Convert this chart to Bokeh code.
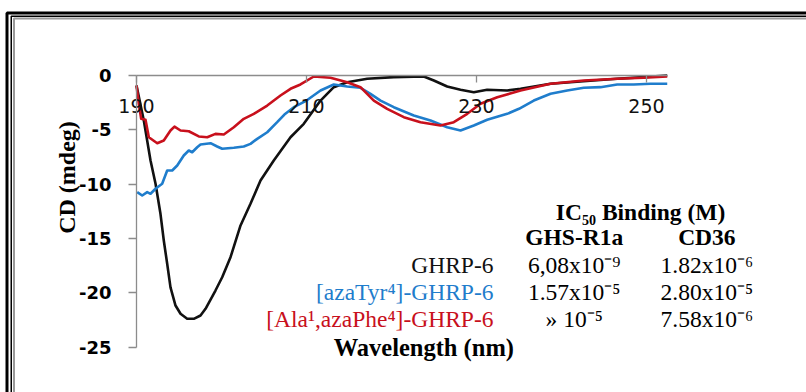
import math
from bokeh.plotting import figure
from bokeh.models import (Range1d, FixedTicker, LabelSet, Label, LinearAxis,
                          ColumnDataSource, BoxAnnotation)
from bokeh.embed import file_html
from bokeh.resources import INLINE

# ---------------- data ----------------
ghrp_wl = [190.0, 190.86, 191.65, 192.24, 192.82, 193.21, 193.61, 194.0, 194.59,
           195.18, 195.96, 196.74, 197.53, 198.12, 199.29, 200.08, 201.06, 202.24, 203.41,
           204.59, 206.15, 208.12, 209.68, 211.65, 213.21, 214.79, 217.14, 220.27, 223.8,
           224.98, 226.55, 228.12, 229.68, 231.26, 233.61, 235.18, 238.71, 242.59, 246.55,
           249.65, 252.44]
ghrp_cd = [-0.95, -4.16, -7.84, -9.98, -12.74, -15.19, -17.33, -19.5, -21.17,
           -21.93, -22.39, -22.39, -22.09, -21.47, -19.79, -18.57, -16.73, -13.81, -11.82,
           -9.68, -7.84, -5.70, -4.47, -2.33, -1.10, -0.64, -0.33, -0.18, -0.12,
           -0.49, -1.04, -1.34, -1.56, -1.34, -1.41, -1.25, -0.79, -0.55, -0.33,
           -0.18, -0.03]

azatyr_wl = [190.08, 190.67, 191.26, 191.65, 192.24, 193.02, 193.61, 194.2, 194.79, 195.56,
             196.15, 196.55, 197.14, 197.53, 198.71, 199.49, 200.08, 201.45, 202.62, 203.41,
             204.2, 205.38, 206.55, 207.4, 208.51, 210.0, 211.65, 213.21, 214.79, 216.35,
             217.53, 218.71, 220.27, 222.62, 224.59, 226.55, 228.12, 229.68, 231.26, 233.61,
             235.0, 236.74, 238.71, 240.67, 242.62, 244.59, 246.55, 248.51, 250.47, 252.44]
azatyr_cd = [-10.75, -11.06, -10.75, -10.9, -10.44, -9.98, -8.76, -8.76, -8.30, -7.38,
             -6.92, -7.08, -6.62, -6.37, -6.25, -6.55, -6.76, -6.67, -6.55, -6.31,
             -5.85, -5.24, -4.32, -3.62, -2.94, -2.33, -1.41, -0.85, -1.04, -1.16,
             -1.71, -2.33, -2.94, -3.70, -4.16, -4.78, -5.08, -4.62, -4.10, -3.55,
             -3.09, -2.33, -1.71, -1.41, -1.16, -1.10, -0.85, -0.85, -0.79, -0.79]

ala_wl = [190.0, 190.27, 190.55, 191.06, 191.45, 192.44, 193.21, 194.0, 194.47, 195.18,
          196.15, 197.33, 198.32, 199.29, 200.27, 201.45, 202.62, 203.8, 205.38, 206.94,
          208.12, 209.29, 210.86, 212.82, 214.79, 216.35, 217.92, 219.49, 221.45, 223.41,
          225.76, 227.33, 228.91, 230.47, 232.44, 235.18, 238.71, 242.62, 246.55, 249.68,
          252.44]
ala_cd = [-0.95, -2.63, -4.01, -4.10, -5.70, -6.25, -6.00, -5.08, -4.72, -5.08,
          -5.15, -5.63, -5.70, -5.39, -5.45, -4.78, -4.01, -3.55, -2.79, -1.87,
          -1.25, -0.85, -0.12, -0.24, -0.64, -1.10, -2.33, -3.09, -3.86, -4.32,
          -4.62, -4.32, -3.55, -2.63, -2.02, -1.41, -0.79, -0.49, -0.33, -0.24,
          -0.12]

x_ticks = [190, 210, 230, 250]
x_tick_labels = ["190", "210", "230", "250"]
y_ticks = [0, -5, -10, -15, -20, -25]
y_tick_labels = ["0", "-5", "-10", "-15", "-20", "-25"]

peptides = ["GHRP-6", "[azaTyr\u2074]-GHRP-6", "[Ala\u00b9,azaPhe\u2074]-GHRP-6"]
ghs_r1a = ["6,08x10\u207b\u2079", "1.57x10\u207b\u2075", "\u00bb 10\u207b\u2075"]
cd36 = ["1.82x10\u207b\u2076", "2.80x10\u207b\u2075", "7.58x10\u207b\u2076"]
table_title = "IC\u2085\u2080 Binding (M)"
column_heads = ["GHS-R1a", "CD36"]

BLACK = "#111111"
BLUE = "#1f7dcc"
RED = "#c8101c"
AXIS = "#8c8c8c"

# pixel scale of the chart: 8.5 px per nm (190 nm at x=136), 10.88 px per mdeg (0 at y=74.7)
W, H = 806, 392
PX_NM, X0_PX = 8.5, 136.0
PX_MDEG, Y0_PX = 10.88, 74.7

p = figure(width=W, height=H, output_backend="svg", toolbar_location=None,
           x_range=Range1d(190 - X0_PX / PX_NM, 190 + (W - X0_PX) / PX_NM),
           y_range=Range1d(-(H - Y0_PX) / PX_MDEG, Y0_PX / PX_MDEG),
           x_axis_location=None, y_axis_location=None,
           min_border=0, min_border_left=0, min_border_right=0,
           min_border_top=0, min_border_bottom=0)
p.grid.visible = False
p.outline_line_color = None
p.background_fill_color = "white"
p.border_fill_color = "white"

# x axis crossing at CD = 0, labels beneath the line
xa = LinearAxis(fixed_location=0, bounds=(190, 252.5),
                ticker=FixedTicker(ticks=x_ticks),
                major_label_overrides={t: s for t, s in zip(x_ticks, x_tick_labels)})
xa.major_tick_in = 0
xa.major_tick_out = 7
xa.minor_tick_in = 0
xa.minor_tick_out = 0
xa.axis_line_color = AXIS
xa.axis_line_width = 1.3
xa.major_tick_line_color = AXIS
xa.major_tick_line_width = 1.3
xa.major_label_standoff = 17
xa.major_label_text_font = "DejaVu Sans"
xa.major_label_text_font_size = "19px"
xa.major_label_text_color = "#111111"
p.add_layout(xa, "below")

ya = LinearAxis(fixed_location=190, bounds=(-25, 0),
                ticker=FixedTicker(ticks=y_ticks),
                major_label_overrides={t: s for t, s in zip(y_ticks, y_tick_labels)})
ya.major_tick_out = 8
ya.major_tick_in = 0
ya.minor_tick_in = 0
ya.minor_tick_out = 0
ya.axis_line_color = AXIS
ya.axis_line_width = 1.3
ya.major_tick_line_color = AXIS
ya.major_tick_line_width = 1.3
ya.major_label_standoff = 17
ya.major_label_text_font = "DejaVu Sans"
ya.major_label_text_font_style = "bold"
ya.major_label_text_font_size = "18px"
ya.major_label_text_color = "black"
p.add_layout(ya, "left")

# curves
p.line(ghrp_wl, ghrp_cd, line_color=BLACK, line_width=2.6, line_join="round")
p.line(azatyr_wl, azatyr_cd, line_color=BLUE, line_width=2.6, line_join="round")
p.line(ala_wl, ala_cd, line_color=RED, line_width=2.6, line_join="round")

# axis titles
p.add_layout(Label(x=190, y=-9.4, x_offset=-70, text="CD (mdeg)", angle=math.pi / 2,
                   text_align="center", text_baseline="middle",
                   text_font="Liberation Serif", text_font_style="bold",
                   text_font_size="24px", text_color="black"))
wsrc = ColumnDataSource(dict(x=[223.8], y=[-25], t=["Wavelength (nm)"]))
p.add_layout(LabelSet(x="x", y="y", text="t", source=wsrc, y_offset=-9,
                      text_align="center", text_baseline="alphabetic",
                      text_font="Liberation Serif", text_font_style="bold",
                      text_font_size="24.5px", text_color="black"))

# IC50 table
row_y = [-18.2, -20.65, -23.1]
tsrc = ColumnDataSource(dict(x=[249.3, 241.5, 257.1], y=[-13.35, -15.65, -15.65],
                             t=[table_title] + column_heads))
p.add_layout(LabelSet(x="x", y="y", text="t", source=tsrc, text_align="center",
                      text_baseline="alphabetic", text_font="Liberation Serif",
                      text_font_style="bold", text_font_size="23.5px", text_color="black"))
psrc = ColumnDataSource(dict(x=[232.0] * 3, y=row_y, t=peptides, c=[BLACK, BLUE, RED]))
p.add_layout(LabelSet(x="x", y="y", text="t", source=psrc, text_align="right",
                      text_baseline="alphabetic", text_font="Liberation Serif",
                      text_font_size="23.5px", text_color="c"))
vsrc = ColumnDataSource(dict(x=[241.5] * 3 + [257.1] * 3, y=row_y + row_y, t=ghs_r1a + cd36))
p.add_layout(LabelSet(x="x", y="y", text="t", source=vsrc, text_align="center",
                      text_baseline="alphabetic", text_font="Liberation Serif",
                      text_font_size="23.5px", text_color="black"))

# double frame around the chart object
for left, top, color, lw in [(6.5, 12.5, "black", 3), (10.75, 15.75, "black", 1.5),
                             (13.5, 18.0, "#9a9a9a", 2)]:
    p.add_layout(BoxAnnotation(left=left, top=top, right=1200, bottom=900,
                               left_units="canvas", right_units="canvas",
                               top_units="canvas", bottom_units="canvas",
                               fill_color=None, fill_alpha=0,
                               line_color=color, line_alpha=1.0, line_width=lw))

p.toolbar.logo = None
open("out.html", "w").write(file_html(p, INLINE))
